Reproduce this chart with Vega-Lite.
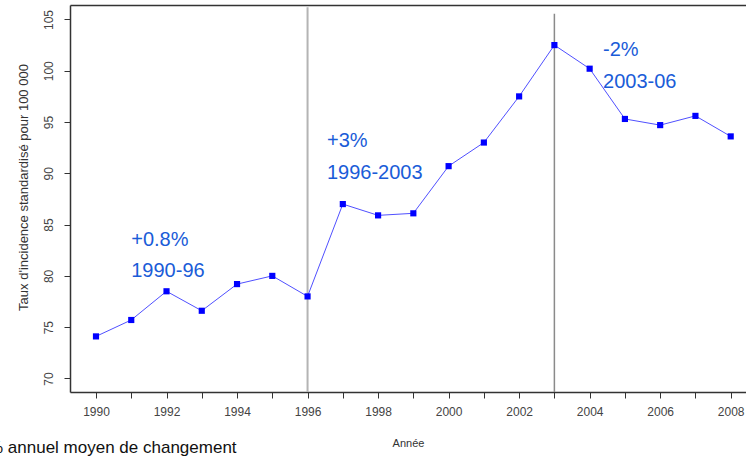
{
  "$schema": "https://vega.github.io/schema/vega-lite/v6.json",
  "width": 676,
  "height": 387,
  "autosize": {"type": "none"},
  "padding": {"left": 70, "top": 5, "right": 0, "bottom": 66},
  "background": "white",
  "config": {
    "view": {"stroke": null},
    "font": "Liberation Sans",
    "axis": {
      "grid": false,
      "domainColor": "#333333",
      "domainWidth": 1.5,
      "tickColor": "#333333",
      "tickSize": 6,
      "labelColor": "#444444",
      "labelFont": "Liberation Sans",
      "labelFontSize": 12,
      "titleFont": "Liberation Sans",
      "titleFontWeight": "normal",
      "titleFontSize": 11,
      "titleColor": "#333333"
    }
  },
  "title": {
    "text": "% annuel moyen de changement",
    "orient": "bottom",
    "anchor": "start",
    "frame": "group",
    "font": "Liberation Sans",
    "fontSize": 17,
    "fontWeight": "normal",
    "color": "#111111",
    "dx": -82,
    "offset": -8
  },
  "datasets": {
    "series": [
      {"annee": 1990, "taux": 74.1},
      {"annee": 1991, "taux": 75.7},
      {"annee": 1992, "taux": 78.5},
      {"annee": 1993, "taux": 76.6},
      {"annee": 1994, "taux": 79.2},
      {"annee": 1995, "taux": 80.0},
      {"annee": 1996, "taux": 78.0},
      {"annee": 1997, "taux": 87.0},
      {"annee": 1998, "taux": 85.9},
      {"annee": 1999, "taux": 86.1},
      {"annee": 2000, "taux": 90.7},
      {"annee": 2001, "taux": 93.0},
      {"annee": 2002, "taux": 97.5},
      {"annee": 2003, "taux": 102.5},
      {"annee": 2004, "taux": 100.2},
      {"annee": 2005, "taux": 95.3},
      {"annee": 2006, "taux": 94.7},
      {"annee": 2007, "taux": 95.6},
      {"annee": 2008, "taux": 93.6}
    ],
    "ruptures": [
      {"annee": 1996, "haut": 106.2, "bas": 68.68, "teinte": "clair"},
      {"annee": 2003, "haut": 105.55, "bas": 68.68, "teinte": "fonce"}
    ],
    "notes": [
      {"annee": 1991, "taux": 83.5, "texte": "+0.8%"},
      {"annee": 1991, "taux": 80.5, "texte": "1990-96"},
      {"annee": 1996.55, "taux": 93.15, "texte": "+3%"},
      {"annee": 1996.55, "taux": 90.05, "texte": "1996-2003"},
      {"annee": 2004.38, "taux": 102.0, "texte": "-2%"},
      {"annee": 2004.38, "taux": 98.9, "texte": "2003-06"}
    ]
  },
  "layer": [
    {
      "data": {"name": "ruptures"},
      "mark": {"type": "rule"},
      "encoding": {
        "x": {
          "field": "annee",
          "type": "quantitative",
          "scale": {"domain": [1989.263, 2008.434], "nice": false, "zero": false},
          "axis": {"orient": "top", "labels": false, "ticks": false, "title": null, "domain": true}
        },
        "y": {
          "field": "haut",
          "type": "quantitative",
          "scale": {"domain": [68.68, 106.41], "nice": false, "zero": false},
          "axis": null
        },
        "y2": {"field": "bas"},
        "color": {
          "field": "teinte",
          "type": "nominal",
          "scale": {"domain": ["clair", "fonce"], "range": ["#b4b4b4", "#8a8a8a"]},
          "legend": null
        },
        "strokeWidth": {
          "field": "teinte",
          "type": "nominal",
          "scale": {"domain": ["clair", "fonce"], "range": [2, 1.5]},
          "legend": null
        }
      }
    },
    {
      "data": {"name": "series"},
      "mark": {"type": "line", "color": "#5050ff", "strokeWidth": 1},
      "encoding": {
        "x": {
          "field": "annee",
          "type": "quantitative",
          "scale": {"domain": [1989.263, 2008.434], "nice": false, "zero": false},
          "axis": {
            "orient": "bottom",
            "title": "Année",
            "values": [1990, 1991, 1992, 1993, 1994, 1995, 1996, 1997, 1998, 1999, 2000, 2001, 2002, 2003, 2004, 2005, 2006, 2007, 2008],
            "format": "d",
            "labelExpr": "datum.value % 2 == 0 ? datum.label : ''",
            "labelPadding": 8,
            "titlePadding": 20,
            "titleFontSize": 11
          }
        },
        "y": {
          "field": "taux",
          "type": "quantitative",
          "scale": {"domain": [68.68, 106.41], "nice": false, "zero": false},
          "axis": {
            "title": "Taux d'incidence standardisé pour 100 000",
            "titleFontSize": 13,
            "titleY": 182,
            "values": [70, 75, 80, 85, 90, 95, 100, 105],
            "labelAngle": -90,
            "labelAlign": "center",
            "labelBaseline": "bottom",
            "labelPadding": 9,
            "titlePadding": 12
          }
        }
      }
    },
    {
      "data": {"name": "series"},
      "mark": {"type": "point", "shape": "square", "filled": true, "size": 38, "color": "#0000ff", "opacity": 1},
      "encoding": {
        "x": {"field": "annee", "type": "quantitative", "scale": {"domain": [1989.263, 2008.434], "nice": false, "zero": false}, "axis": null},
        "y": {"field": "taux", "type": "quantitative", "scale": {"domain": [68.68, 106.41], "nice": false, "zero": false}, "axis": null}
      }
    },
    {
      "data": {"name": "notes"},
      "mark": {"type": "text", "align": "left", "baseline": "middle", "font": "Liberation Sans", "fontSize": 20, "color": "#1a5cd8"},
      "encoding": {
        "x": {"field": "annee", "type": "quantitative", "scale": {"domain": [1989.263, 2008.434], "nice": false, "zero": false}, "axis": null},
        "y": {"field": "taux", "type": "quantitative", "scale": {"domain": [68.68, 106.41], "nice": false, "zero": false}, "axis": null},
        "text": {"field": "texte"}
      }
    }
  ],
  "resolve": {"axis": {"x": "independent", "y": "independent"}}
}
